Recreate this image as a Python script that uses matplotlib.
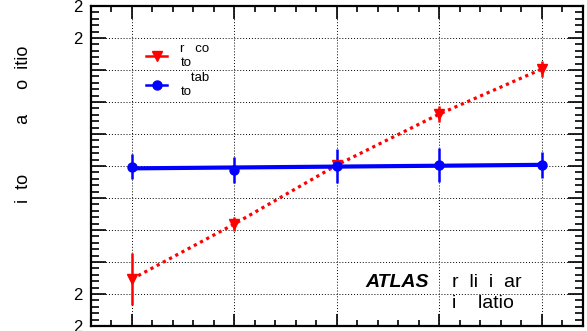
import numpy as np
import matplotlib
matplotlib.use('Agg')
import matplotlib.pyplot as plt
from matplotlib.lines import Line2D
from matplotlib.ticker import MultipleLocator, FixedLocator, FixedFormatter

plt.rcParams['font.family'] = ['Liberation Sans', 'DejaVu Sans']

# data
x = np.array([1, 2, 3, 4, 5])
red_y = np.array([0.9294, 0.9638, 1.0006, 1.0325, 1.0606])
red_err = np.array([0.0163, 0.0044, 0.0030, 0.0047, 0.0050])
blue_y = np.array([0.9994, 0.9975, 1.0000, 1.0006, 1.0006])
blue_err = np.array([0.0078, 0.0084, 0.0106, 0.0106, 0.0084])

ytick_vals = [0.90, 0.92, 0.94, 0.96, 0.98, 1.00, 1.02, 1.04, 1.06, 1.08, 1.10]
ytick_labels = ['2', '2', '', '', '', '', '', '', '', '2', '2']

ylabel = 'i  to          a     o  itio'
red_label = 'r   co\nto'
blue_label = '   tab\nto'

fig = plt.figure(figsize=(5.87, 3.31), dpi=100)
ax = fig.add_axes([0.155, 0.015, 0.838, 0.967])

ax.set_xlim(0.6, 5.4)
ax.set_ylim(0.9, 1.1)

ax.grid(True, which='major', color='black', linestyle=(0, (1, 2)), linewidth=0.7)

# red series, dotted line through the points
ax.plot(x, red_y, color='red', linestyle=(0, (1, 1.2)), linewidth=2.3, zorder=3)
ax.errorbar(x, red_y, yerr=red_err, fmt='v', color='red', markersize=6.5,
            elinewidth=1.8, capsize=0, zorder=4)

# blue series with fitted flat line
fit = np.polyfit(x, blue_y, 1)
ax.plot(x, np.polyval(fit, x), color='blue', linewidth=3, zorder=3)
ax.errorbar(x, blue_y, yerr=blue_err, fmt='o', color='blue', markersize=6.5,
            elinewidth=1.8, capsize=0, zorder=4)

# ticks
ax.xaxis.set_major_locator(MultipleLocator(1))
ax.xaxis.set_minor_locator(MultipleLocator(0.2))
ax.set_xticklabels([])
ax.yaxis.set_major_locator(FixedLocator(ytick_vals))
ax.yaxis.set_major_formatter(FixedFormatter(ytick_labels))
ax.yaxis.set_minor_locator(MultipleLocator(0.004))
ax.tick_params(axis='both', which='both', direction='in', top=True, right=True,
               width=1.2, labelsize=12)
ax.tick_params(axis='y', which='major', length=11, pad=6)
ax.tick_params(axis='y', which='minor', length=6)
ax.tick_params(axis='x', which='major', length=9)
ax.tick_params(axis='x', which='minor', length=4)
for s in ax.spines.values():
    s.set_linewidth(1.6)

fig.text(0.04, 0.625, ylabel, rotation=90, fontsize=13, ha='center', va='center')

handles = [Line2D([], [], color='red', marker='v', markersize=6.5, linewidth=1.8),
           Line2D([], [], color='blue', marker='o', markersize=6.5, linewidth=1.8)]
ax.legend(handles, [red_label, blue_label], loc='upper left',
          bbox_to_anchor=(0.112, 0.885), frameon=False, fontsize=9.5,
          handlelength=1.6, handletextpad=1.0, labelspacing=0.25,
          borderpad=0, borderaxespad=0, labelcolor='black')

ax.text(0.557, 0.122, 'ATLAS', transform=ax.transAxes, fontsize=14,
        fontweight='bold', fontstyle='italic', va='baseline')
ax.text(0.734, 0.122, 'r  li  i  ar', transform=ax.transAxes, fontsize=14,
        va='baseline')
ax.text(0.734, 0.056, 'i    latio', transform=ax.transAxes, fontsize=14,
        va='baseline')

fig.savefig('out.png', dpi=100)
